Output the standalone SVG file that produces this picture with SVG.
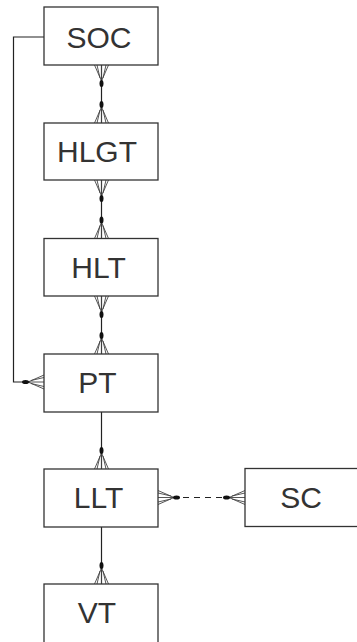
<svg xmlns="http://www.w3.org/2000/svg" width="357" height="642" viewBox="0 0 357 642">
<defs>
<style>
.box{fill:#fff;stroke:#333;stroke-width:1.3}
.lbl{font-family:"Liberation Sans",Arial,sans-serif;font-size:30px;fill:#333;text-anchor:middle}
.ln{fill:none;stroke:#222;stroke-width:1.2}
.dash{fill:none;stroke:#222;stroke-width:1.2;stroke-dasharray:6,5}
.cf{fill:none;stroke:#444;stroke-width:0.9}
.dot{fill:#111}
</style>
<g id="cfDown">
<path class="cf" d="M0,-16 L-7,0 M0,-16 L0,0 M0,-16 L7,0 M-1.5,-13 L-4.5,0 M1.5,-13 L4.5,0"/>
<ellipse class="dot" cx="0" cy="-18.5" rx="2" ry="3.5"/>
</g>
</defs>
<rect width="357" height="642" fill="#fff"/>
<g id="connectors">
<line class="ln" x1="101.5" y1="65" x2="101.5" y2="123"/>
<use href="#cfDown" transform="translate(101.5,65) scale(1,-1)"/>
<use href="#cfDown" transform="translate(101.5,123)"/>
<line class="ln" x1="101.5" y1="180" x2="101.5" y2="238.5"/>
<use href="#cfDown" transform="translate(101.5,180) scale(1,-1)"/>
<use href="#cfDown" transform="translate(101.5,238.5)"/>
<line class="ln" x1="101.5" y1="296" x2="101.5" y2="354"/>
<use href="#cfDown" transform="translate(101.5,296) scale(1,-1)"/>
<use href="#cfDown" transform="translate(101.5,354)"/>
<polyline class="ln" points="44,37 13.5,37 13.5,382 30,382"/>
<use href="#cfDown" transform="translate(44,382) rotate(-90)"/>
<line class="ln" x1="101.5" y1="412" x2="101.5" y2="469"/>
<use href="#cfDown" transform="translate(101.5,469)"/>
<line class="dash" x1="172" y1="497.5" x2="231" y2="497.5"/>
<use href="#cfDown" transform="translate(158,497.5) rotate(90)"/>
<use href="#cfDown" transform="translate(245,497.5) rotate(-90)"/>
<line class="ln" x1="101.5" y1="527" x2="101.5" y2="584"/>
<use href="#cfDown" transform="translate(101.5,584)"/>
</g>
<g id="SOC"><rect class="box" x="44" y="7" width="114" height="58"/><text class="lbl" x="99" y="48">SOC</text></g>
<g id="HLGT"><rect class="box" x="44" y="123" width="114" height="57"/><text class="lbl" x="97" y="162">HLGT</text></g>
<g id="HLT"><rect class="box" x="44" y="238.5" width="114" height="57.5"/><text class="lbl" x="98.5" y="278">HLT</text></g>
<g id="PT"><rect class="box" x="44" y="354" width="114" height="58"/><text class="lbl" x="97.5" y="393">PT</text></g>
<g id="LLT"><rect class="box" x="44" y="469" width="114" height="58"/><text class="lbl" x="98.5" y="508">LLT</text></g>
<g id="SC"><rect class="box" x="245" y="468.5" width="114" height="58"/><text class="lbl" x="301" y="508">SC</text></g>
<g id="VT"><rect class="box" x="44" y="584" width="114" height="70"/><text class="lbl" x="97" y="623">VT</text></g>
</svg>
